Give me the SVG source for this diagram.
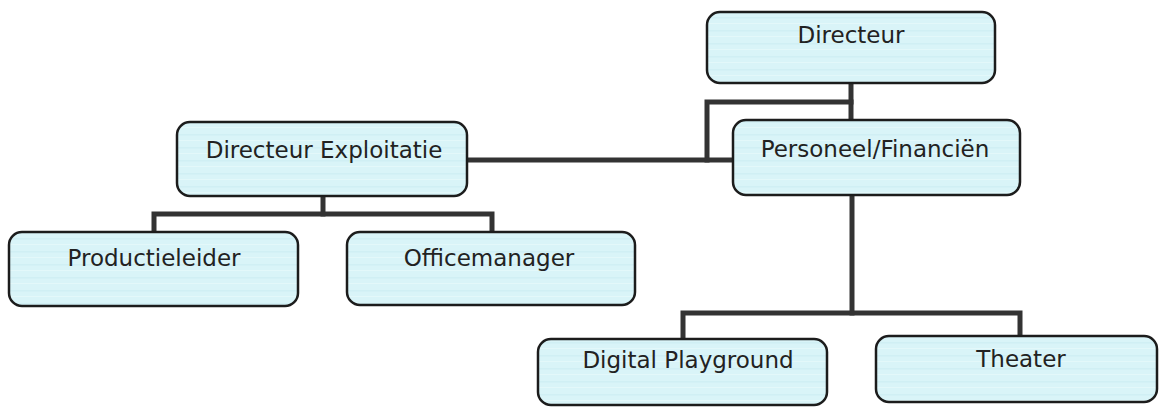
<svg xmlns="http://www.w3.org/2000/svg" width="1159" height="407" viewBox="0 0 1159 407">
  <defs>
    <pattern id="streaks" patternUnits="userSpaceOnUse" width="60" height="13">
      <rect width="60" height="13" fill="#d9f4f8"/>
      <rect y="4" width="60" height="1.5" fill="#d0eff4"/>
      <rect y="10" width="60" height="1" fill="#e3f8fa"/>
    </pattern>
  </defs>
  <style>
    .box { fill: url(#streaks); stroke: #1c1c1c; stroke-width: 2.5; }
    .lbl { font-family: "DejaVu Sans", Verdana, sans-serif; font-size: 23px; fill: #222; text-anchor: middle; }
    .conn { fill: none; stroke: #333; stroke-width: 5; stroke-linecap: square; stroke-linejoin: miter; }
  </style>
  <rect width="1159" height="407" fill="#ffffff"/>
  <g id="connectors">
    <line class="conn" x1="851" y1="83" x2="851" y2="120"/>
    <polyline class="conn" points="851,102 707,102 707,160"/>
    <line class="conn" x1="467" y1="160" x2="733" y2="160"/>
    <line class="conn" x1="323" y1="196" x2="323" y2="214"/>
    <polyline class="conn" points="154,232 154,214 492,214 492,232"/>
    <line class="conn" x1="852" y1="195" x2="852" y2="313"/>
    <polyline class="conn" points="683,339 683,313 1020,313 1020,336"/>
  </g>
  <g id="directeur">
    <rect class="box" x="707" y="12" width="288" height="71" rx="13"/>
    <text class="lbl" x="851" y="43">Directeur</text>
  </g>
  <g id="personeel-financien">
    <rect class="box" x="733" y="120" width="287" height="75" rx="13"/>
    <text class="lbl" x="875" y="157">Personeel/Financiën</text>
  </g>
  <g id="directeur-exploitatie">
    <rect class="box" x="177" y="122" width="290" height="74" rx="13"/>
    <text class="lbl" x="324" y="158">Directeur Exploitatie</text>
  </g>
  <g id="productieleider">
    <rect class="box" x="9" y="232" width="289" height="74" rx="13"/>
    <text class="lbl" x="154" y="266">Productieleider</text>
  </g>
  <g id="officemanager">
    <rect class="box" x="347" y="232" width="288" height="73" rx="13"/>
    <text class="lbl" x="489" y="266">Officemanager</text>
  </g>
  <g id="digital-playground">
    <rect class="box" x="538" y="339" width="289" height="66" rx="13"/>
    <text class="lbl" x="688" y="368">Digital Playground</text>
  </g>
  <g id="theater">
    <rect class="box" x="876" y="336" width="281" height="66" rx="13"/>
    <text class="lbl" x="1021" y="367">Theater</text>
  </g>
</svg>
